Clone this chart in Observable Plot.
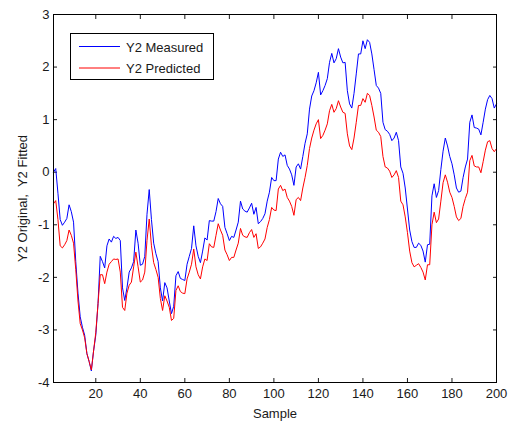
<!DOCTYPE html>
<html><head><meta charset="utf-8">
<script src="https://cdn.jsdelivr.net/npm/d3@7"></script>
<script src="https://cdn.jsdelivr.net/npm/@observablehq/plot@0.6"></script>
<style>
body{margin:0;background:#fff}
#wrap{position:relative;width:513px;height:421px;background:#fff}
#legend{position:absolute;left:0;top:0;pointer-events:none}
</style>
</head><body><div id="wrap"></div>
<script>
const measured = [
 0.00, 0.07,-0.40,-0.90,-1.01,-0.95,-0.88,-0.62,-0.75,-0.95,
-1.70,-2.30,-2.75,-2.95,-3.10,-3.45,-3.60,-3.78,-3.40,-3.10,
-2.50,-1.60,-1.70,-1.82,-1.40,-1.27,-1.33,-1.22,-1.26,-1.24,
-1.30,-2.20,-2.44,-2.20,-1.90,-1.82,-1.70,-1.10,-1.35,-1.77,
-1.75,-1.60,-0.80,-0.33,-0.90,-1.35,-1.55,-1.70,-2.20,-2.45,
-2.10,-2.20,-2.45,-2.69,-2.55,-1.97,-1.89,-2.02,-2.04,-2.06,
-1.75,-1.60,-1.45,-1.02,-1.40,-1.60,-1.72,-1.50,-1.25,-1.29,
-0.92,-0.93,-0.93,-0.75,-0.50,-0.60,-0.65,-1.05,-1.17,-1.30,
-1.22,-1.24,-1.10,-0.95,-0.55,-0.70,-0.74,-0.76,-0.68,-0.59,
-0.80,-0.67,-0.98,-0.94,-0.88,-0.79,-0.55,-0.38,-0.10,-0.16,
-0.16, 0.25, 0.38, 0.30, 0.33, 0.13, 0.06,-0.05,-0.25, 0.10,
 0.16, 0.06, 0.30, 0.55, 0.73, 1.20, 1.45, 1.55, 1.70, 1.90,
 1.47, 1.55, 1.65, 1.78, 2.09, 2.26, 2.08, 2.16, 2.35, 2.19,
 2.08, 2.09, 1.55, 1.30, 1.22, 1.50, 1.87, 2.25, 2.25, 2.50,
 2.35, 2.52, 2.47, 2.25, 1.95, 1.65, 1.60, 1.50, 0.95, 0.81,
 0.78, 0.72, 0.60, 0.65, 0.76, 0.60, 0.10,-0.02,-0.30,-0.70,
-1.10,-1.32,-1.43,-1.43,-1.35,-1.39,-1.50,-1.71,-1.38,-1.37,
-0.45,-0.22,-0.48,-0.35, 0.05, 0.40, 0.65, 0.50, 0.30, 0.16,
-0.05,-0.30,-0.38,-0.36,-0.10, 0.10, 0.25, 0.95, 1.09, 0.85,
 0.84, 0.82, 0.71, 0.95, 1.20, 1.38, 1.46, 1.40, 1.22, 1.30
];
const predicted = [
-0.60,-0.54,-0.90,-1.40,-1.44,-1.38,-1.30,-1.10,-1.20,-1.35,
-1.85,-2.45,-2.88,-3.00,-3.15,-3.45,-3.60,-3.76,-3.40,-3.05,
-2.50,-1.95,-1.95,-2.12,-1.90,-1.75,-1.70,-1.65,-1.66,-1.65,
-1.90,-2.57,-2.63,-2.30,-2.15,-2.09,-1.80,-1.52,-1.80,-2.09,
-2.05,-1.90,-1.30,-0.89,-1.40,-1.72,-1.85,-2.00,-2.40,-2.63,
-2.35,-2.45,-2.57,-2.82,-2.78,-2.25,-2.16,-2.27,-2.30,-2.31,
-2.03,-1.90,-1.75,-1.46,-1.80,-1.95,-2.03,-1.80,-1.65,-1.68,
-1.36,-1.42,-1.43,-1.20,-0.98,-1.10,-1.20,-1.48,-1.57,-1.68,
-1.62,-1.62,-1.48,-1.35,-1.07,-1.20,-1.23,-1.24,-1.15,-1.09,
-1.24,-1.17,-1.45,-1.42,-1.35,-1.27,-1.05,-0.90,-0.67,-0.72,
-0.73,-0.32,-0.25,-0.35,-0.32,-0.48,-0.55,-0.65,-0.82,-0.52,
-0.48,-0.54,-0.30,-0.10, 0.13, 0.45, 0.65, 0.80, 0.92, 1.00,
 0.64, 0.70, 0.80, 0.92, 1.17, 1.29, 1.14, 1.21, 1.36, 1.24,
 1.14, 1.12, 0.73, 0.50, 0.43, 0.65, 0.95, 1.27, 1.27, 1.40,
 1.33, 1.50, 1.46, 1.27, 1.05, 0.80, 0.76, 0.68, 0.30, 0.10,
 0.08, 0.02,-0.10,-0.05, 0.03,-0.10,-0.55,-0.62,-0.85,-1.15,
-1.50,-1.72,-1.80,-1.77,-1.74,-1.81,-1.90,-2.05,-1.76,-1.76,
-1.00,-0.76,-0.96,-0.89,-0.55,-0.20,-0.05,-0.19,-0.38,-0.48,
-0.65,-0.85,-0.92,-0.88,-0.65,-0.50,-0.38, 0.22, 0.32, 0.12,
 0.10, 0.10,-0.01, 0.20, 0.42, 0.58, 0.60, 0.45, 0.39, 0.45
];
const xTicks = [20, 40, 60, 80, 100, 120, 140, 160, 180, 200];
const yTicks = [-4, -3, -2, -1, 0, 1, 2, 3];
const seriesNames = ["Y2 Measured", "Y2 Predicted"];
const seriesColors = ["#0000ff", "#ff0000"];
const xLabel = "Sample";
const yLabel = "Y2 Original,  Y2 Fitted";

const rows = measured.map((v, i) => ({sample: i + 1, measured: v, predicted: predicted[i]}));
const font = "'Liberation Sans', Arial, sans-serif";
const ink = "#1a1a1a";

const chart = Plot.plot({
  width: 513, height: 421,
  marginLeft: 53, marginRight: 17, marginTop: 14, marginBottom: 39,
  style: {fontFamily: font, fontSize: "13px", color: ink, background: "#fff"},
  x: {domain: [1, 200]},
  y: {domain: [-4, 3]},
  marks: [
    Plot.axisX({ticks: xTicks, tickSize: -4, tickPadding: 10, tickFormat: d => String(d),
      label: xLabel, labelAnchor: "center", labelArrow: "none", labelOffset: 35}),
    Plot.axisX({anchor: "top", ticks: xTicks, tickSize: -4, tickFormat: () => "", label: null}),
    Plot.axisY({ticks: yTicks, tickSize: -4, tickPadding: 8, tickFormat: d => String(d),
      label: yLabel, labelAnchor: "center", labelArrow: "none", labelOffset: 36}),
    Plot.axisY({anchor: "right", ticks: yTicks, tickSize: -4, tickFormat: () => "", label: null}),
    Plot.lineY(rows, {x: "sample", y: "measured", stroke: seriesColors[0], strokeWidth: 1}),
    Plot.lineY(rows, {x: "sample", y: "predicted", stroke: seriesColors[1], strokeWidth: 1}),
    Plot.frame({stroke: "#000", strokeWidth: 1})
  ]
});
const wrap = document.getElementById("wrap");
wrap.appendChild(chart);

// legend box
const ns = "http://www.w3.org/2000/svg";
const lg = document.createElementNS(ns, "svg");
lg.setAttribute("id", "legend");
lg.setAttribute("width", 513);
lg.setAttribute("height", 421);
const box = document.createElementNS(ns, "rect");
box.setAttribute("x", 70.5); box.setAttribute("y", 33.5);
box.setAttribute("width", 143); box.setAttribute("height", 46);
box.setAttribute("fill", "#fff"); box.setAttribute("stroke", "#000");
lg.appendChild(box);
seriesNames.forEach((name, i) => {
  const yy = 46.5 + i * 21.5;
  const ln = document.createElementNS(ns, "line");
  ln.setAttribute("x1", 79); ln.setAttribute("x2", 120);
  ln.setAttribute("y1", yy); ln.setAttribute("y2", yy);
  ln.setAttribute("stroke", seriesColors[i]);
  lg.appendChild(ln);
  const t = document.createElementNS(ns, "text");
  t.setAttribute("x", 126); t.setAttribute("y", yy + 5);
  t.setAttribute("font-family", font); t.setAttribute("font-size", "13");
  t.setAttribute("fill", ink);
  t.textContent = name;
  lg.appendChild(t);
});
wrap.appendChild(lg);
</script>
</body></html>
